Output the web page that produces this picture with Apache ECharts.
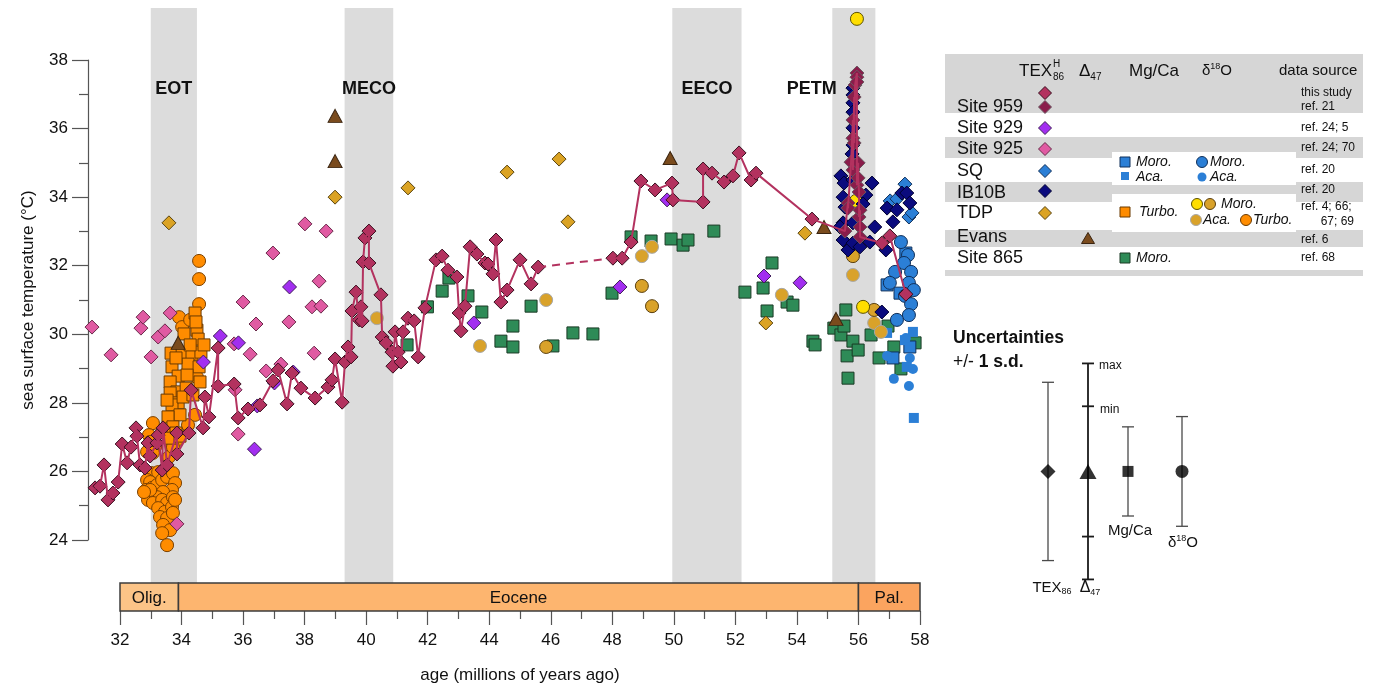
<!DOCTYPE html>
<html>
<head>
<meta charset="utf-8">
<script src="https://cdn.jsdelivr.net/npm/echarts@6/dist/echarts.min.js"></script>
<style>
  html, body { margin: 0; padding: 0; background: #fff; }
  #chart { width: 1373px; height: 686px; }
</style>
</head>
<body>
<div id="chart"></div>
<script>
// ---------------------------------------------------------------------------
// Data: every record is [age (Ma), sea surface temperature (°C)]
// ---------------------------------------------------------------------------
const site959ThisStudy = [
  [31.19,25.52],[31.35,25.57],[31.48,26.19],[31.61,25.17],[31.77,25.37],[31.94,25.69],[32.07,26.80],[32.23,26.25],
  [32.36,26.71],[32.52,27.27],[32.55,27.03],[32.65,26.19],[32.81,26.10],[32.91,26.83],[32.98,26.45],[33.20,26.83],
  [33.24,27.06],[33.37,26.04],[33.40,27.27],[33.53,26.19],[33.85,27.12],[33.85,26.51],[34.24,27.12],[34.31,28.37],
  [34.70,27.27],[34.76,28.17],[34.89,27.59],[35.19,29.60],[35.19,28.49],[35.71,28.55],[35.84,27.56],[36.16,27.82],
  [36.55,27.94],[36.97,28.64],[37.14,28.96],[37.43,27.97],[37.59,28.87],[37.88,28.43],[38.34,28.14],[38.76,28.46],
  [38.89,28.67],[38.99,29.28],[39.22,28.02],[39.31,29.19],[39.41,29.63],[39.51,29.34],[39.54,30.68],[39.67,31.23],
  [39.77,30.42],[39.83,30.80],[39.87,30.39],[39.90,32.11],[39.96,32.81],[40.09,33.01],[40.09,32.08],[40.48,31.15],
  [40.52,29.92],[40.65,29.75],[40.84,29.48],[40.87,29.07],[40.94,30.07],[41.04,29.48],[41.13,29.19],[41.20,30.07],
  [41.36,30.47],[41.56,30.39],[41.69,29.34],[41.91,30.77],[42.27,32.17],[42.47,32.28],[42.66,31.87],[42.95,31.67],
  [43.02,30.62],[43.08,30.10],[43.21,30.82],[43.38,32.55],[43.60,32.34],[43.86,32.08],[43.96,32.05],[44.12,31.76],
  [44.22,32.75],[44.38,30.94],[44.58,31.29],[45.00,32.17],[45.36,31.47],[45.59,31.96],
  [48.02,32.22],[48.32,32.22],[48.61,32.69],[48.93,34.47],[49.39,34.21],[49.94,34.41],[49.97,33.92],[50.95,33.86],
  [50.95,34.82],[51.24,34.70],[51.63,34.44],[51.92,34.62],[52.12,35.29],[52.51,34.50],[52.67,34.70],[54.49,33.36],
  [56.76,32.66],[57.02,32.87],[57.54,31.17]
];
const site959Ref21 = [
  [55.56,33.01],[55.66,33.83],[55.66,33.68],[55.76,35.02],[55.82,36.25],[55.82,35.72],[55.82,34.79],[55.86,36.92],
  [55.86,35.58],[55.89,37.27],[55.95,37.62],[55.95,37.50],[55.95,37.36],[55.95,34.35],[55.99,35.00],[55.99,34.56],
  [56.02,34.15],[56.02,33.42],[56.05,33.62],[56.05,33.13],[56.05,32.84]
];
const site929 = [
  [34.71,29.19],[35.26,29.95],[35.85,29.75],[36.37,26.65],[36.46,27.91],[37.02,28.58],[37.51,31.38],[37.63,28.90],
  [43.50,30.33],[48.25,31.38],[49.78,33.92],[52.93,31.70],[54.10,31.50]
];
const site925 = [
  [31.09,30.21],[31.71,29.40],[32.68,30.18],[32.75,30.50],[33.01,29.34],[33.24,29.92],[33.46,30.10],[33.63,30.62],
  [33.85,24.47],[35.71,29.72],[35.74,28.38],[35.84,27.09],[36.00,30.94],[36.23,29.42],[36.42,30.30],[36.75,28.93],
  [36.97,32.37],[37.23,29.13],[37.49,30.36],[38.01,33.22],[38.24,30.80],[38.31,29.45],[38.47,31.55],[38.53,30.82],
  [38.70,33.01]
];
const sqTex86 = [[57.03,33.89],[57.25,33.95],[57.51,34.38],[57.64,33.42],[57.74,33.54]];
const ib10bTex86 = [
  [55.82,37.18],[55.82,36.98],[55.82,36.75],[55.82,36.48],[55.82,36.02],[55.82,35.52],[55.79,35.26],[55.43,34.62],
  [55.53,34.41],[55.82,34.50],[56.44,34.41],[55.50,34.00],[56.24,34.06],[55.56,33.71],[56.15,33.80],[55.50,33.25],
  [55.82,33.25],[55.40,33.13],[55.50,32.75],[55.66,32.46],[55.82,32.66],[56.05,32.55],[56.37,32.69],[56.53,33.13],
  [56.89,32.46],[57.12,33.28],[56.93,33.68],[57.25,33.63],[57.41,34.12],[57.57,34.12],[57.67,33.83],[56.76,30.65]
];
const tdpTex86 = [[33.59,33.25],[38.99,34.00],[41.36,34.27],[44.58,34.73],[46.27,35.11],[46.56,33.28],[52.99,30.33],[54.26,32.95]];
const evansD47 = [[33.89,29.75],[38.99,36.37],[38.99,35.05],[49.88,35.14],[54.88,33.13],[55.27,30.45]];
const site865MgMoro = [
  [41.33,29.69],[41.99,30.80],[42.47,31.26],[42.69,31.64],[43.31,31.12],[43.76,30.65],[44.38,29.80],[44.77,30.24],
  [44.77,29.63],[45.36,30.82],[46.07,29.66],[46.72,30.04],[47.37,30.01],[47.99,31.20],[48.61,32.84],[49.26,32.72],
  [49.91,32.78],[50.30,32.60],[50.46,32.75],[51.30,33.01],[52.31,31.23],[52.90,31.35],[53.19,32.08],[53.03,30.68],
  [53.68,30.94],[53.87,30.85],[54.52,29.80],[54.59,29.69],[55.20,30.18],[55.43,29.98],[55.53,30.24],[55.59,30.71],
  [55.63,29.37],[55.66,28.72],[55.82,29.80],[55.99,29.54],[56.41,29.98],[56.67,29.31],[56.96,30.24],[57.15,29.63],
  [57.38,28.99],[57.84,29.75]
];
const sqMgMoro = [[57.54,32.37],[56.93,31.44],[57.35,31.20],[57.67,29.63],[57.12,29.31]];
const sqMgAca = [[56.93,30.04],[57.77,30.07],[57.57,29.05],[57.80,27.56],[57.51,29.83]];
const sqD18Moro = [
  [57.38,32.69],[57.61,32.31],[57.48,32.08],[57.71,31.82],[57.19,31.82],[57.02,31.50],[57.64,31.50],[57.80,31.29],
  [57.51,31.12],[57.71,30.88],[57.64,30.56],[57.25,30.42]
];
const sqD18Aca = [[57.54,29.89],[56.93,29.37],[57.67,29.31],[57.77,28.99],[57.15,28.70],[57.64,28.49]];
const tdpMgTurbo = [
  [34.44,30.62],[34.08,30.01],[34.50,30.12],[34.54,29.86],[33.66,29.45],[34.02,29.45],[34.34,29.42],[34.63,29.48],
  [33.69,29.05],[34.21,29.13],[34.57,29.05],[33.89,28.78],[34.18,28.81],[34.60,28.61],[33.63,28.61],[33.85,28.32],
  [34.15,28.43],[33.63,28.29],[33.89,28.00],[33.69,27.94],[33.95,27.65],[33.56,27.59],[33.72,27.30],[33.82,27.12],
  [33.63,26.97],[33.95,27.03],[34.28,29.69],[33.82,29.31],[34.05,28.17],[34.37,28.23],[34.73,29.69],[34.47,30.36],
  [33.53,28.08]
];
const tdpD18Turbo = [
  [34.57,32.14],[34.57,31.61],[34.57,30.88],[33.92,30.50],[34.02,30.21],[34.28,30.42],[34.50,28.75],[34.44,27.65],
  [34.21,27.35],[33.85,26.92],[33.69,26.71],[33.07,27.41],[32.94,27.06],[32.98,26.86],[33.14,26.71],[32.88,26.57],
  [33.07,26.54],[33.59,26.42],[33.72,26.71],[33.04,25.95],[33.24,25.98],[32.88,25.75],[32.98,25.69],[32.85,25.46],
  [33.04,25.52],[33.20,25.60],[33.37,25.75],[33.53,25.84],[33.72,25.95],[33.79,25.66],[33.69,25.46],[33.40,25.40],
  [33.20,25.25],[32.91,25.17],[33.07,25.08],[33.37,25.17],[33.53,25.08],[33.72,25.25],[33.24,24.93],[33.46,24.82],
  [33.69,24.96],[33.30,24.67],[33.53,24.64],[33.40,24.44],[33.63,24.29],[33.37,24.20],[33.53,23.85],[33.72,24.79],
  [33.79,25.17],[32.98,25.46],[32.78,25.40]
];
const tdpD18MoroYellow = [[55.95,39.20],[55.92,33.89],[56.15,30.80]];
const tdpD18MoroGold = [[48.96,31.41],[49.29,30.82],[45.85,29.63],[56.51,30.71],[55.82,32.28]];
const tdpD18Aca = [[40.35,30.47],[43.70,29.66],[45.85,31.00],[48.96,32.28],[49.29,32.55],[53.51,31.15],[55.82,31.73],[56.51,30.33],[56.73,30.07]];

// climate events (shaded) and epochs (bar under the plot), ages in Ma
const eventNames = ['EOT', 'MECO', 'EECO', 'PETM'];
const eventStart = [33.0, 39.3, 49.95, 55.15];
const eventEnd   = [34.5, 40.88, 52.2, 56.55];
const epochNames = ['Olig.', 'Eocene', 'Pal.'];
const epochStart = [32, 33.9, 56];
const epochEnd   = [33.9, 56, 58];

// axis ticks
const ageTicks  = [32, 34, 36, 38, 40, 42, 44, 46, 48, 50, 52, 54, 56, 58];
const tempTicks = [24, 26, 28, 30, 32, 34, 36, 38];

// proxy uncertainties (±1 s.d., °C), drawn around a common reference temperature
const proxyNames = ['TEX86', 'Δ47', 'Mg/Ca', 'δ18O'];
const proxySd = [2.6, 3.15, 1.3, 1.6];
const d47MinSd = 1.9;
const uncertCentre = 26.0;

// ---------------------------------------------------------------------------
// Layout and styling
// ---------------------------------------------------------------------------
const FONT = "'Liberation Sans', Arial, Helvetica, sans-serif";
const INK = '#111';
const AXIS_GREY = '#555';
const BAND_GREY = '#dcdcdc';
const TABLE_GREY = '#d6d6d6';

const ageMin = ageTicks[0], ageMax = ageTicks[ageTicks.length - 1];
const tMin = tempTicks[0], tMax = tempTicks[tempTicks.length - 1];
const axisLeftPx = 120, axisRightPx = 920;     // age axis extent
const tTopPx = 60, tBottomPx = 540;             // temperature axis extent
const plotTopPx = 8, plotBottomPx = 583;        // shaded bands / data area
const pxPerMa = (axisRightPx - axisLeftPx) / (ageMax - ageMin);
const pxPerDeg = (tBottomPx - tTopPx) / (tMax - tMin);
const dataAgeMin = 31;
const dataLeftPx = axisLeftPx - (ageMin - dataAgeMin) * pxPerMa;
const yHi = tMax + (tTopPx - plotTopPx) / pxPerDeg;
const yLo = tMin - (plotBottomPx - tBottomPx) / pxPerDeg;

const epochColor = ['#fcc487', '#fdb56f', '#fba45f'];
const uncertSlot = [2, 4, 6, 8.7];
const proxySymbol = [['diamond', 15], ['triangle', [17, 15]], ['rect', 11], ['circle', 13]];

// marker sizes
const DIA = 14, SQR = 12, DOT = 13, DOT_SMALL = 10, SQR_SMALL = 10;

const C = {
  s959: '#b3325f', s959Ref: '#8a1d4b', s929: '#a22ef0', s925: '#e05aa2',
  sq: '#2b7fd6', ib10b: '#0b0b7e', tdp: '#dba324', evans: '#7a4b1d',
  green: '#2e8b57', orange: '#ff8c00', yellow: '#ffde00', gold: '#d9a22a'
};

// ---------------------------------------------------------------------------
// Text helpers for the table and panel (sub/superscripts)
// ---------------------------------------------------------------------------
const measureCtx = document.createElement('canvas').getContext('2d');
function textWidth(t, size, weight, italic) {
  measureCtx.font = (italic ? 'italic ' : '') + (weight || 'normal') + ' ' + size + 'px ' + FONT;
  return measureCtx.measureText(t).width;
}
function txt(t, x, y, size, o) {
  o = o || {};
  return {
    type: 'text', z: 100,
    style: {
      text: t, x: x, y: y, fontSize: size, fontFamily: FONT,
      fontWeight: o.weight || 'normal', fontStyle: o.italic ? 'italic' : 'normal',
      fill: o.color || INK, align: o.align || 'left', verticalAlign: 'middle',
      textAlign: o.align || 'left', textVerticalAlign: 'middle'
    }
  };
}
function runs(parts, x, y, align) {
  const widths = parts.map(p => textWidth(p.t, p.size, p.weight, p.italic));
  const total = widths.reduce((a, b) => a + b, 0);
  let cx = align === 'center' ? x - total / 2 : (align === 'right' ? x - total : x);
  const out = [];
  parts.forEach((p, i) => {
    out.push(txt(p.t, cx, y + (p.dy || 0), p.size, { weight: p.weight, italic: p.italic }));
    cx += widths[i];
  });
  return out;
}
function gDiamond(x, y, s, fill, stroke) {
  const h = s / 2;
  return { type: 'polygon', z: 100, shape: { points: [[x, y - h], [x + h, y], [x, y + h], [x - h, y]] },
    style: { fill: fill, stroke: stroke, lineWidth: 1 } };
}
function gSquare(x, y, s, fill, stroke) {
  return { type: 'rect', z: 100, shape: { x: x - s / 2, y: y - s / 2, width: s, height: s },
    style: { fill: fill, stroke: stroke || null, lineWidth: stroke ? 1 : 0 } };
}
function gDot(x, y, r, fill, stroke) {
  return { type: 'circle', z: 100, shape: { cx: x, cy: y, r: r },
    style: { fill: fill, stroke: stroke || null, lineWidth: stroke ? 1 : 0 } };
}
function gTriangle(x, y, w, h, fill, stroke) {
  return { type: 'polygon', z: 100, shape: { points: [[x, y - h / 2], [x + w / 2, y + h / 2], [x - w / 2, y + h / 2]] },
    style: { fill: fill, stroke: stroke, lineWidth: 1 } };
}

// ---------------------------------------------------------------------------
// Legend table and uncertainty panel (graphic elements)
// ---------------------------------------------------------------------------
const graphic = [];
const tblX = 945, tblW = 418;
[[54, 59], [137, 21], [182, 20], [230, 17], [270, 6]].forEach(([y, h]) =>
  graphic.push({ type: 'rect', z: 99, shape: { x: tblX, y: y, width: tblW, height: h }, style: { fill: TABLE_GREY } }));
[[152, 33], [194, 38]].forEach(([y, h]) =>
  graphic.push({ type: 'rect', z: 99, shape: { x: 1112, y: y, width: 184, height: h }, style: { fill: '#fff' } }));

// header
graphic.push(txt('TEX', 1019, 71, 17));
graphic.push(txt('H', 1053, 64, 10));
graphic.push(txt('86', 1053, 77, 10));
graphic.push(...runs([{ t: 'Δ', size: 17 }, { t: '47', size: 10, dy: 6 }], 1079, 71, 'left'));
graphic.push(txt('Mg/Ca', 1129, 71, 17));
graphic.push(...runs([{ t: 'δ', size: 15 }, { t: '18', size: 9, dy: -4 }, { t: 'O', size: 15 }], 1202, 71, 'left'));
graphic.push(txt('data source', 1279, 71, 15));

// row labels and references
const rowLabel = ['Site 959', 'Site 929', 'Site 925', 'SQ', 'IB10B', 'TDP', 'Evans', 'Site 865'];
const rowY = [107, 128, 149, 171, 193, 213, 237, 258];
rowLabel.forEach((t, i) => graphic.push(txt(t, 957, rowY[i], 18)));
[['this study', 93], ['ref. 21', 107], ['ref. 24; 5', 128], ['ref. 24; 70', 148], ['ref. 20', 170],
 ['ref. 20', 190], ['ref. 4; 66;', 207], ['ref. 6', 240], ['ref. 68', 258]].forEach(([t, y]) =>
  graphic.push(txt(t, 1301, y, 12)));
graphic.push(txt('67; 69', 1354, 222, 12, { align: 'right' }));

// proxy symbols
graphic.push(gDiamond(1045, 93, 13, C.s959, '#3a1020'));
graphic.push(gDiamond(1045, 107, 13, C.s959Ref, '#6a5560'));
graphic.push(gDiamond(1045, 128, 13, C.s929, '#40205a'));
graphic.push(gDiamond(1045, 149, 13, C.s925, '#6a2a4a'));
graphic.push(gDiamond(1045, 171, 13, C.sq, '#10305a'));
graphic.push(gDiamond(1045, 191, 13, C.ib10b, '#000030'));
graphic.push(gDiamond(1045, 213, 13, C.tdp, '#5a4510'));
graphic.push(gTriangle(1088, 238, 13, 11, C.evans, '#3a2410'));
graphic.push(gSquare(1125, 162, 10, C.sq, '#10305a'));
graphic.push(txt('Moro.', 1136, 162, 14, { italic: true }));
graphic.push(gSquare(1125, 176, 8, C.sq));
graphic.push(txt('Aca.', 1136, 177, 14, { italic: true }));
graphic.push(gDot(1202, 162, 5.5, C.sq, '#10305a'));
graphic.push(txt('Moro.', 1210, 162, 14, { italic: true }));
graphic.push(gDot(1202, 177, 4.5, C.sq));
graphic.push(txt('Aca.', 1210, 177, 14, { italic: true }));
graphic.push(gSquare(1125, 212, 10, C.orange, '#6a3a00'));
graphic.push(txt('Turbo.', 1139, 212, 14, { italic: true }));
graphic.push(gDot(1197, 204, 5.5, C.yellow, '#5a5000'));
graphic.push(gDot(1210, 204, 5.5, C.gold, '#5a4010'));
graphic.push(txt('Moro.', 1221, 204, 14, { italic: true }));
graphic.push(gDot(1196, 220, 5.5, C.gold, '#a8a8a8'));
graphic.push(txt('Aca.', 1203, 220, 14, { italic: true }));
graphic.push(gDot(1246, 220, 5.5, C.orange, '#6a3a00'));
graphic.push(txt('Turbo.', 1253, 220, 14, { italic: true }));
graphic.push(gSquare(1125, 258, 10, C.green, '#1a3a25'));
graphic.push(txt('Moro.', 1136, 258, 14, { italic: true }));

// uncertainty panel titles and labels
graphic.push(txt('Uncertainties', 953, 338, 17.5, { weight: 'bold' }));
graphic.push(...runs([{ t: '+/- ', size: 17.5 }, { t: '1 s.d.', size: 17.5, weight: 'bold' }], 953, 362, 'left'));
graphic.push(...runs([{ t: 'TEX', size: 15 }, { t: '86', size: 9, dy: 4 }], 1052, 588, 'center'));
graphic.push(...runs([{ t: 'Δ', size: 16 }, { t: '47', size: 9, dy: 5 }], 1090, 588, 'center'));
graphic.push(txt(proxyNames[2], 1130, 531, 15, { align: 'center' }));
graphic.push(...runs([{ t: 'δ', size: 15 }, { t: '18', size: 9, dy: -4 }, { t: 'O', size: 15 }], 1183, 543, 'center'));

// ---------------------------------------------------------------------------
// Site 959 connecting line (dashed across the sampling gap)
// ---------------------------------------------------------------------------
const site959All = site959ThisStudy.concat(site959Ref21)
  .map((p, i) => ({ p: p, i: i }))
  .sort((a, b) => (a.p[0] - b.p[0]) || (a.i - b.i))
  .map(o => o.p);
const lineSegs = [[]];
const lineGaps = [];
site959All.forEach((p, k) => {
  if (k > 0 && p[0] - site959All[k - 1][0] > 2) {
    lineGaps.push([site959All[k - 1], p]);
    lineSegs.push([]);
  }
  lineSegs[lineSegs.length - 1].push(p);
});
const lineSeries = lineSegs.map(seg => ({
  type: 'line', xAxisIndex: 0, yAxisIndex: 0, data: seg, symbol: 'none', silent: true,
  lineStyle: { color: C.s959, width: 2 }
})).concat(lineGaps.map(g => ({
  type: 'line', xAxisIndex: 0, yAxisIndex: 0, data: g, symbol: 'none', silent: true,
  lineStyle: { color: C.s959, width: 2, type: [8, 6] }
})));

function scatter(name, data, symbol, size, color, border, extra) {
  return Object.assign({
    type: 'scatter', name: name, xAxisIndex: 0, yAxisIndex: 0, data: data, silent: true,
    symbol: symbol, symbolSize: size,
    itemStyle: { color: color, borderColor: border || 'transparent', borderWidth: border ? 1 : 0, opacity: 1 }
  }, extra || {});
}

const bandArea = {
  silent: true,
  itemStyle: { color: BAND_GREY },
  label: { show: true, position: 'insideTop', distance: 72, fontFamily: FONT, fontSize: 18, fontWeight: 'bold', color: INK },
  data: eventNames.map((n, i) => [
    { xAxis: eventStart[i], name: n, label: n === 'PETM' ? { offset: [-42, 0] } : {} },
    { xAxis: eventEnd[i] }
  ])
};

const series = [
  scatter('Site 865 Mg/Ca', site865MgMoro, 'rect', SQR, C.green, '#1a3a25', { markArea: bandArea }),
  scatter('SQ Mg/Ca Moro.', sqMgMoro, 'rect', SQR, C.sq, '#10305a'),
  scatter('SQ Mg/Ca Aca.', sqMgAca, 'rect', SQR_SMALL, C.sq),
  scatter('SQ δ18O Moro.', sqD18Moro, 'circle', DOT, C.sq, '#10305a'),
  scatter('SQ δ18O Aca.', sqD18Aca, 'circle', DOT_SMALL, C.sq),
  scatter('TDP δ18O Aca.', tdpD18Aca, 'circle', DOT, C.gold, '#a8a8a8'),
  scatter('TDP δ18O Moro. (gold)', tdpD18MoroGold, 'circle', DOT, C.gold, '#5a4010'),
  scatter('TDP δ18O Moro. (yellow)', tdpD18MoroYellow, 'circle', DOT, C.yellow, '#5a5000'),
  scatter('TDP δ18O Turbo.', tdpD18Turbo, 'circle', DOT, C.orange, '#7a4000'),
  scatter('TDP Mg/Ca Turbo.', tdpMgTurbo, 'rect', SQR, C.orange, '#6a3a00'),
  scatter('TDP TEX86', tdpTex86, 'diamond', DIA, C.tdp, '#5a4510'),
  scatter('SQ TEX86', sqTex86, 'diamond', DIA, C.sq, '#10305a'),
  scatter('IB10B TEX86', ib10bTex86, 'diamond', DIA, C.ib10b, '#000030'),
  scatter('Site 925', site925, 'diamond', DIA, C.s925, '#6a2a4a'),
  scatter('Site 929', site929, 'diamond', DIA, C.s929, '#40205a'),
  ...lineSeries,
  scatter('Site 959 ref. 21', site959Ref21, 'diamond', DIA, C.s959Ref, '#6a5560'),
  scatter('Site 959 this study', site959ThisStudy, 'diamond', DIA, C.s959, '#3a1020'),
  scatter('Evans Δ47', evansD47, 'triangle', [14, 13], C.evans, '#3a2410'),
  // epoch bar
  {
    type: 'custom', xAxisIndex: 1, yAxisIndex: 1, silent: true,
    data: epochStart.map((s, i) => [s, epochEnd[i], i]),
    encode: { x: [0, 1] },
    renderItem: function (params, api) {
      const i = api.value(2);
      const a = api.coord([api.value(0), 1]);
      const b = api.coord([api.value(1), 0]);
      return {
        type: 'group', children: [
          { type: 'rect', shape: { x: a[0], y: a[1], width: b[0] - a[0], height: b[1] - a[1] },
            style: { fill: epochColor[i], stroke: '#3c3c3c', lineWidth: 1.5 } },
          { type: 'text', style: { text: epochNames[i], x: (a[0] + b[0]) / 2, y: (a[1] + b[1]) / 2 + 1,
            align: 'center', verticalAlign: 'middle', fontSize: 17, fontFamily: FONT, fill: INK } }
        ]
      };
    }
  },
  // uncertainty bars
  {
    type: 'custom', xAxisIndex: 3, yAxisIndex: 3, silent: true,
    data: proxyNames.map((n, i) => [uncertSlot[i], uncertCentre, proxySd[i], i]),
    encode: { x: 0, y: 1 },
    renderItem: function (params, api) {
      const i = api.value(3);
      const c = api.value(1), sd = api.value(2);
      const x = api.coord([api.value(0), c])[0];
      const top = api.coord([api.value(0), c + sd])[1];
      const bot = api.coord([api.value(0), c - sd])[1];
      const isD47 = i === 1;
      const stroke = isD47 ? '#1a1a1a' : '#4a4a4a';
      const lw = isD47 ? 1.8 : 1.3;
      const cap = 6;
      const seg = (x1, y1, x2, y2) => ({ type: 'line', shape: { x1: x1, y1: y1, x2: x2, y2: y2 }, style: { stroke: stroke, lineWidth: lw } });
      const kids = [seg(x, top, x, bot), seg(x - cap, top, x + cap, top), seg(x - cap, bot, x + cap, bot)];
      if (isD47) {
        const mTop = api.coord([api.value(0), c + d47MinSd])[1];
        const mBot = api.coord([api.value(0), c - d47MinSd])[1];
        kids.push(seg(x - cap, mTop, x + cap, mTop), seg(x - cap, mBot, x + cap, mBot));
        kids.push({ type: 'text', style: { text: 'max', x: x + 11, y: top + 2, fontSize: 12, fontFamily: FONT, fill: INK, align: 'left', verticalAlign: 'middle' } });
        kids.push({ type: 'text', style: { text: 'min', x: x + 12, y: mTop + 3, fontSize: 12, fontFamily: FONT, fill: INK, align: 'left', verticalAlign: 'middle' } });
      }
      return { type: 'group', children: kids };
    }
  },
  {
    type: 'scatter', xAxisIndex: 3, yAxisIndex: 3, silent: true, z: 4,
    data: proxyNames.map((n, i) => ({ value: [uncertSlot[i], uncertCentre], symbol: proxySymbol[i][0], symbolSize: proxySymbol[i][1] })),
    itemStyle: { color: '#000' }
  }
];

const option = {
  animation: false,
  backgroundColor: '#fff',
  textStyle: { fontFamily: FONT },
  grid: [
    { left: dataLeftPx, right: 1373 - axisRightPx, top: plotTopPx, bottom: 686 - plotBottomPx, outerBoundsMode: 'none' },
    { left: axisLeftPx, right: 1373 - axisRightPx, top: plotBottomPx, height: 28, outerBoundsMode: 'none' },
    { left: 88, top: tTopPx, height: tBottomPx - tTopPx, width: 20, outerBoundsMode: 'none' },
    { left: 1008, top: plotTopPx, bottom: 686 - plotBottomPx, width: 200, outerBoundsMode: 'none' }
  ],
  xAxis: [
    { gridIndex: 0, type: 'value', min: dataAgeMin, max: ageMax, show: false },
    {
      gridIndex: 1, type: 'value', min: ageMin, max: ageMax, interval: ageTicks[1] - ageTicks[0],
      position: 'bottom',
      axisLine: { show: false },
      axisTick: { show: true, length: 14, lineStyle: { color: AXIS_GREY, width: 1.2 } },
      minorTick: { show: true, splitNumber: 2, length: 8, lineStyle: { color: AXIS_GREY, width: 1.2 } },
      splitLine: { show: false },
      axisLabel: { margin: 21, fontSize: 17, color: INK, fontFamily: FONT },
      name: 'age (millions of years ago)', nameLocation: 'middle', nameGap: 56,
      nameTextStyle: { fontSize: 17, color: INK, fontFamily: FONT }
    },
    { gridIndex: 2, type: 'value', min: 0, max: 1, show: false },
    { gridIndex: 3, type: 'value', min: 0, max: 10, show: false }
  ],
  yAxis: [
    { gridIndex: 0, type: 'value', min: yLo, max: yHi, show: false },
    { gridIndex: 1, type: 'value', min: 0, max: 1, show: false },
    {
      gridIndex: 2, type: 'value', min: tMin, max: tMax, interval: tempTicks[1] - tempTicks[0],
      position: 'left',
      axisLine: { show: true, lineStyle: { color: AXIS_GREY, width: 1.2 } },
      axisTick: { show: true, length: 16, lineStyle: { color: AXIS_GREY, width: 1.2 } },
      minorTick: { show: true, splitNumber: 2, length: 9, lineStyle: { color: AXIS_GREY, width: 1.2 } },
      splitLine: { show: false },
      axisLabel: { margin: 20, fontSize: 17, color: INK, fontFamily: FONT },
      name: 'sea surface temperature (°C)', nameLocation: 'middle', nameGap: 51,
      nameTextStyle: { fontSize: 17, color: INK, fontFamily: FONT }
    },
    { gridIndex: 3, type: 'value', min: yLo, max: yHi, show: false }
  ],
  graphic: graphic,
  series: series
};

const chart = echarts.init(document.getElementById('chart'), null, { renderer: 'canvas' });
chart.setOption(option);
</script>
</body>
</html>
